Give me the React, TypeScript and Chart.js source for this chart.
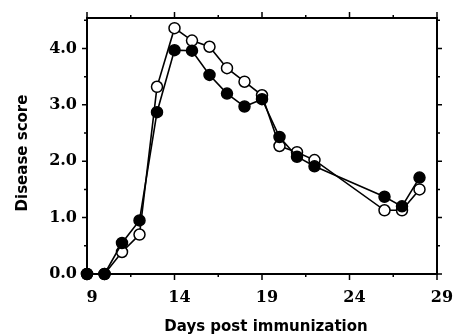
import React, { useEffect, useRef } from "react";
import { Chart, registerables } from "chart.js";

Chart.register(...registerables);

const days = [9, 10, 11, 12, 13, 14, 15, 16, 17, 18, 19, 20, 21, 22, 26, 27, 28];
const filledScores = [0, 0, 0.55, 0.95, 2.87, 3.97, 3.96, 3.53, 3.2, 2.97, 3.1, 2.43, 2.08, 1.91, 1.37, 1.2, 1.71];
const openScores = [0, 0, 0.39, 0.7, 3.32, 4.36, 4.14, 4.03, 3.65, 3.41, 3.17, 2.27, 2.16, 2.02, 1.13, 1.13, 1.5];
const xMajorTicks = [9, 14, 19, 24, 29];
const xMinorTicks = [11.5, 16.5, 21.5, 26.5];
const yMajorTicks = [0, 1, 2, 3, 4];
const yMinorTicks = [0.5, 1.5, 2.5, 3.5, 4.5];
const xTitle = "Days post immunization";
const yTitle = "Disease score";

const tickFont = { family: "'DejaVu Serif'", weight: "bold" as const, size: 16 };
const titleFont = "bold 15px 'DejaVu Sans'";

const framePlugin = {
  id: "frame",
  beforeDatasetsDraw(chart: any) {
    const { ctx, chartArea } = chart;
    const { left, right, top, bottom } = chartArea;
    const xs = chart.scales.x;
    const ys = chart.scales.y;
    ctx.save();
    ctx.strokeStyle = "#000";
    ctx.lineWidth = 2;
    ctx.beginPath();
    ctx.rect(left, top, right - left, bottom - top);
    ctx.stroke();
    ctx.lineWidth = 1.5;
    ctx.beginPath();
    const drawX = (vals: number[], len: number) => {
      vals.forEach((v) => {
        const px = xs.getPixelForValue(v);
        ctx.moveTo(px, bottom);
        ctx.lineTo(px, bottom + len);
        ctx.moveTo(px, top);
        ctx.lineTo(px, top - len);
      });
    };
    const drawY = (vals: number[], len: number) => {
      vals.forEach((v) => {
        const py = ys.getPixelForValue(v);
        ctx.moveTo(left, py);
        ctx.lineTo(left - len, py);
        ctx.moveTo(right, py);
        ctx.lineTo(right + len, py);
      });
    };
    drawX(xMajorTicks, 6);
    drawX(xMinorTicks, 3);
    drawY(yMajorTicks, 5);
    drawY(yMinorTicks, 3);
    ctx.stroke();
    ctx.restore();
  },
  afterDraw(chart: any) {
    const { ctx } = chart;
    ctx.save();
    ctx.fillStyle = "#000";
    ctx.font = titleFont;
    ctx.textAlign = "center";
    ctx.textBaseline = "middle";
    ctx.fillText(xTitle, 266, 327);
    ctx.translate(23.5, 153);
    ctx.rotate(-Math.PI / 2);
    ctx.fillText(yTitle, 0, 0);
    ctx.restore();
  },
};

export default function App() {
  const ref = useRef<HTMLCanvasElement | null>(null);
  useEffect(() => {
    if (!ref.current) return;
    const chart = new Chart(ref.current, {
      type: "line",
      data: {
        datasets: [
          {
            label: "filled",
            data: days.map((d, i) => ({ x: d, y: filledScores[i] })),
            borderColor: "#000",
            backgroundColor: "#000",
            borderWidth: 1.6,
            pointRadius: 5.5,
            pointBorderWidth: 1.5,
            pointBorderColor: "#000",
            pointBackgroundColor: "#000",
            tension: 0,
            clip: false as any,
            order: 0,
          },
          {
            label: "open",
            data: days.map((d, i) => ({ x: d, y: openScores[i] })),
            borderColor: "#000",
            backgroundColor: "#fff",
            borderWidth: 1.6,
            pointRadius: 5.5,
            pointBorderWidth: 1.5,
            pointBorderColor: "#000",
            pointBackgroundColor: "#fff",
            tension: 0,
            clip: false as any,
            order: 1,
          },
        ],
      },
      options: {
        responsive: false,
        animation: false,
        devicePixelRatio: 1,
        layout: { padding: { top: 18, right: 18, left: 0, bottom: 0 } },
        plugins: { legend: { display: false }, tooltip: { enabled: false } },
        scales: {
          x: {
            type: "linear",
            min: 9,
            max: 29,
            afterBuildTicks: (s: any) => {
              s.ticks = xMajorTicks.map((v) => ({ value: v }));
            },
            afterFit: (s: any) => {
              s.height = 61;
              s.paddingLeft = 0;
              s.paddingRight = 0;
            },
            grid: { display: false, drawTicks: false },
            border: { display: false },
            ticks: {
              font: tickFont,
              color: "#000",
              padding: 14,
              labelOffset: 5,
              autoSkip: false,
              maxRotation: 0,
              callback: (v: any) => String(v),
            },
          },
          y: {
            type: "linear",
            min: 0,
            max: 4.54,
            afterBuildTicks: (s: any) => {
              s.ticks = yMajorTicks.map((v) => ({ value: v }));
            },
            afterFit: (s: any) => {
              s.width = 87;
              s.paddingTop = 0;
              s.paddingBottom = 0;
            },
            grid: { display: false, drawTicks: false },
            border: { display: false },
            ticks: {
              font: tickFont,
              color: "#000",
              padding: 10,
              autoSkip: false,
              callback: (v: any) => Number(v).toFixed(1),
            },
          },
        },
      },
      plugins: [framePlugin],
    });
    return () => chart.destroy();
  }, []);
  return (
    <div style={{ position: "fixed", left: 0, top: 0, background: "#fff" }}>
      <canvas ref={ref} width={455} height={335} style={{ display: "block" }} />
    </div>
  );
}
